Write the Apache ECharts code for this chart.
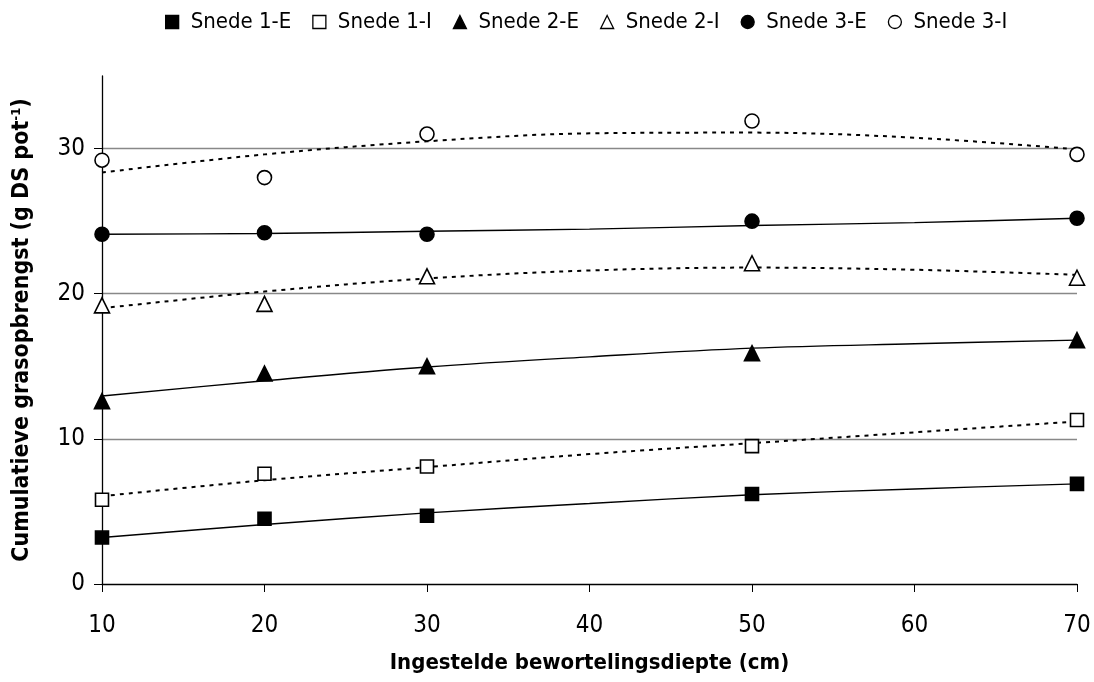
<!DOCTYPE html>
<html>
<head>
<meta charset="utf-8">
<script src="https://cdn.jsdelivr.net/npm/echarts@6/dist/echarts.min.js"></script>
<style>
html,body{margin:0;padding:0;background:#fff;}
#chart{width:1094px;height:682px;}
</style>
</head>
<body>
<div id="chart"></div>
<script>
// Measured points
const depths = [10, 20, 30, 50, 70];
const s1E = [3.2, 4.5, 4.7, 6.2, 6.9];
const s1I = [5.8, 7.6, 8.1, 9.5, 11.3];
const s2E = [12.6, 14.5, 15.0, 15.9, 16.8];
const s2I = [19.2, 19.3, 21.2, 22.1, 21.1];
const s3E = [24.1, 24.2, 24.1, 25.0, 25.2];
const s3I = [29.2, 28.0, 31.0, 31.9, 29.6];

// Trend lines
const trendX = [10, 20, 30, 40, 50, 60, 70];
const t1E = [3.2, 4.1, 4.9, 5.55, 6.15, 6.55, 6.9];
const t1I = [6.05, 7.15, 8.05, 8.95, 9.7, 10.45, 11.2];
const t2E = [12.95, 14.0, 14.95, 15.65, 16.25, 16.55, 16.8];
const t2I = [19.0, 20.15, 21.05, 21.6, 21.8, 21.65, 21.3];
const t3E = [24.1, 24.15, 24.3, 24.45, 24.7, 24.9, 25.2];
const t3I = [28.35, 29.6, 30.5, 31.05, 31.1, 30.75, 29.95];

const names = ['Snede 1-E', 'Snede 1-I', 'Snede 2-E', 'Snede 2-I', 'Snede 3-E', 'Snede 3-I'];
const yTicks = [0, 10, 20, 30];
const xTicks = [10, 20, 30, 40, 50, 60, 70];

const FONT = '"Liberation Sans Narrow", "DejaVu Sans Condensed", "Liberation Sans", sans-serif';

const zip = (xs, ys) => xs.map((x, i) => [x, ys[i]]);

const pointSets = [s1E, s1I, s2E, s2I, s3E, s3I];
const trendSets = [t1E, t1I, t2E, t2I, t3E, t3I];
const symbols = ['rect', 'rect', 'triangle', 'triangle', 'circle', 'circle'];
const sizes = [13, 13, 15, 15, 14, 14];
const filled = [true, false, true, false, true, false];

const series = [];
trendSets.forEach((t, i) => {
  series.push({
    type: 'line',
    data: zip(trendX, t),
    smooth: 0.35,
    showSymbol: false,
    silent: true,
    z: 2,
    lineStyle: filled[i]
      ? { color: '#000', width: 1.4, type: 'solid' }
      : { color: '#000', width: 2, type: [4, 5] }
  });
});
pointSets.forEach((p, i) => {
  series.push({
    name: names[i],
    type: 'scatter',
    data: zip(depths, p),
    symbol: symbols[i],
    symbolSize: sizes[i],
    z: 5,
    itemStyle: {
      opacity: 1,
      color: filled[i] ? '#000' : '#fff',
      borderColor: '#000',
      borderWidth: 1.6
    }
  });
});

const chart = echarts.init(document.getElementById('chart'), null, { renderer: 'canvas' });
chart.setOption({
  animation: false,
  backgroundColor: '#fff',
  textStyle: { fontFamily: FONT },
  legend: {
    top: 6,
    left: 160,
    itemGap: 21,
    itemWidth: 13,
    itemHeight: 13,
    textStyle: { fontFamily: FONT, fontSize: 22, color: '#000', padding: [0, 0, 0, 7] },
    data: names.map((n, i) => ({
      name: n,
      icon: symbols[i],
      itemStyle: {
        opacity: 1,
        color: filled[i] ? '#000' : '#fff',
        borderColor: '#000',
        borderWidth: 1.3
      }
    }))
  },
  grid: { left: 102, right: 17, top: 76, bottom: 98, containLabel: false },
  xAxis: {
    type: 'value',
    min: 10,
    max: 70,
    interval: 10,
    name: 'Ingestelde bewortelingsdiepte (cm)',
    nameLocation: 'middle',
    nameGap: 68,
    nameTextStyle: { fontFamily: FONT, fontSize: 22, fontWeight: 'bold', color: '#000' },
    axisLine: { show: true, onZero: false, lineStyle: { color: '#000', width: 1.3 } },
    axisTick: { show: true, inside: false, length: 8, lineStyle: { color: '#000' } },
    axisLabel: { fontFamily: FONT, fontSize: 24, color: '#000', margin: 30, customValues: xTicks },
    splitLine: { show: false }
  },
  yAxis: {
    type: 'value',
    min: 0,
    max: 35,
    interval: 10,
    name: '{a|Cumulatieve grasopbrengst (g DS pot}{s|-1}{a|)}',
    nameLocation: 'middle',
    nameGap: 67,
    nameRotate: 90,
    nameTextStyle: {
      rich: {
        a: { fontFamily: FONT, fontSize: 23, fontWeight: 'bold', color: '#000' },
        s: { fontFamily: FONT, fontSize: 13, fontWeight: 'bold', color: '#000', verticalAlign: 'top', padding: [0, 0, 12, 0] }
      }
    },
    axisLine: { show: true, onZero: false, lineStyle: { color: '#000', width: 1.3 } },
    axisTick: { show: true, inside: false, length: 8, lineStyle: { color: '#000' }, customValues: yTicks },
    axisLabel: { fontFamily: FONT, fontSize: 24, color: '#000', margin: 17, customValues: yTicks },
    splitLine: { show: true, showMinLine: false, showMaxLine: true, lineStyle: { color: '#888', width: 1.3 } }
  },
  series: series
});
</script>
</body>
</html>
